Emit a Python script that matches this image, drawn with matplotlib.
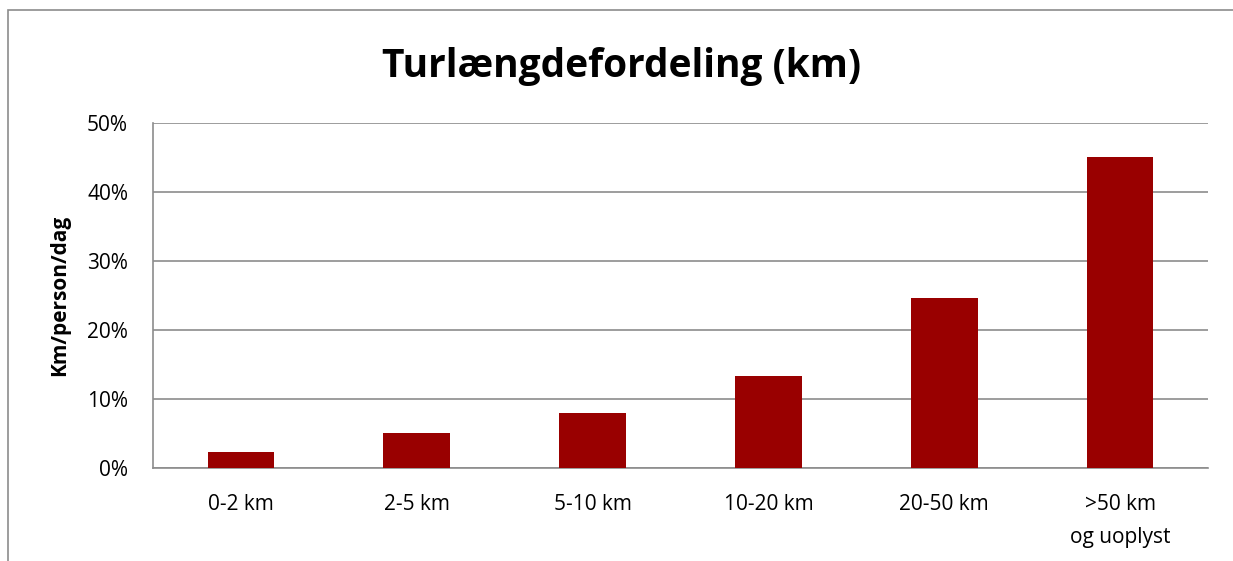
import matplotlib.pyplot as plt
from matplotlib.patches import Rectangle
from matplotlib.ticker import PercentFormatter

# data
categories = ["0-2 km", "2-5 km", "5-10 km", "10-20 km", "20-50 km", ">50 km\nog uoplyst"]
shares = [2.3, 5.0, 8.0, 13.3, 24.6, 45.0]  # percent

plt.rcParams['font.family'] = ['Open Sans', 'DejaVu Sans']

fig = plt.figure(figsize=(12.33, 5.61), dpi=100)
ax = fig.add_axes([153 / 1233, 1 - 467.7 / 561, (1208 - 153) / 1233, (467.7 - 123) / 561])

# outer chart border (cropped at right and bottom in the reference)
fig.patches.append(Rectangle((8 / 1233, -0.1), 1.2, 1 - 10 / 561 + 0.1,
                             transform=fig.transFigure, fill=False,
                             edgecolor='#8c8c8c', linewidth=1.2))

x = range(len(categories))
ax.bar(x, shares, width=0.38, color='#990000', zorder=3)

ax.set_xlim(-0.5, len(categories) - 0.5)
ax.set_ylim(0, 50)
ax.set_yticks([0, 10, 20, 30, 40, 50])
ax.yaxis.set_major_formatter(PercentFormatter(decimals=0))
ax.set_xticks(list(x))
ax.set_xticklabels(categories, fontsize=15, linespacing=1.75)
ax.tick_params(axis='y', labelsize=15, length=0, pad=18)
ax.tick_params(axis='x', length=0, pad=19)

ax.grid(axis='y', color='#8c8c8c', linewidth=1.2, zorder=0)
for side in ['top', 'right']:
    ax.spines[side].set_visible(False)
ax.spines['left'].set_color('#8c8c8c')
ax.spines['bottom'].set_color('#8c8c8c')
ax.spines['left'].set_linewidth(1.2)
ax.spines['bottom'].set_linewidth(1.2)

ax.set_ylabel("Km/person/dag", fontsize=15, fontweight='bold', labelpad=12)
fig.text(621 / 1233, 1 - 66 / 561, "Turlængdefordeling (km)", fontsize=28,
         fontweight='bold', ha='center', va='center')

fig.savefig("out.png", dpi=100)
